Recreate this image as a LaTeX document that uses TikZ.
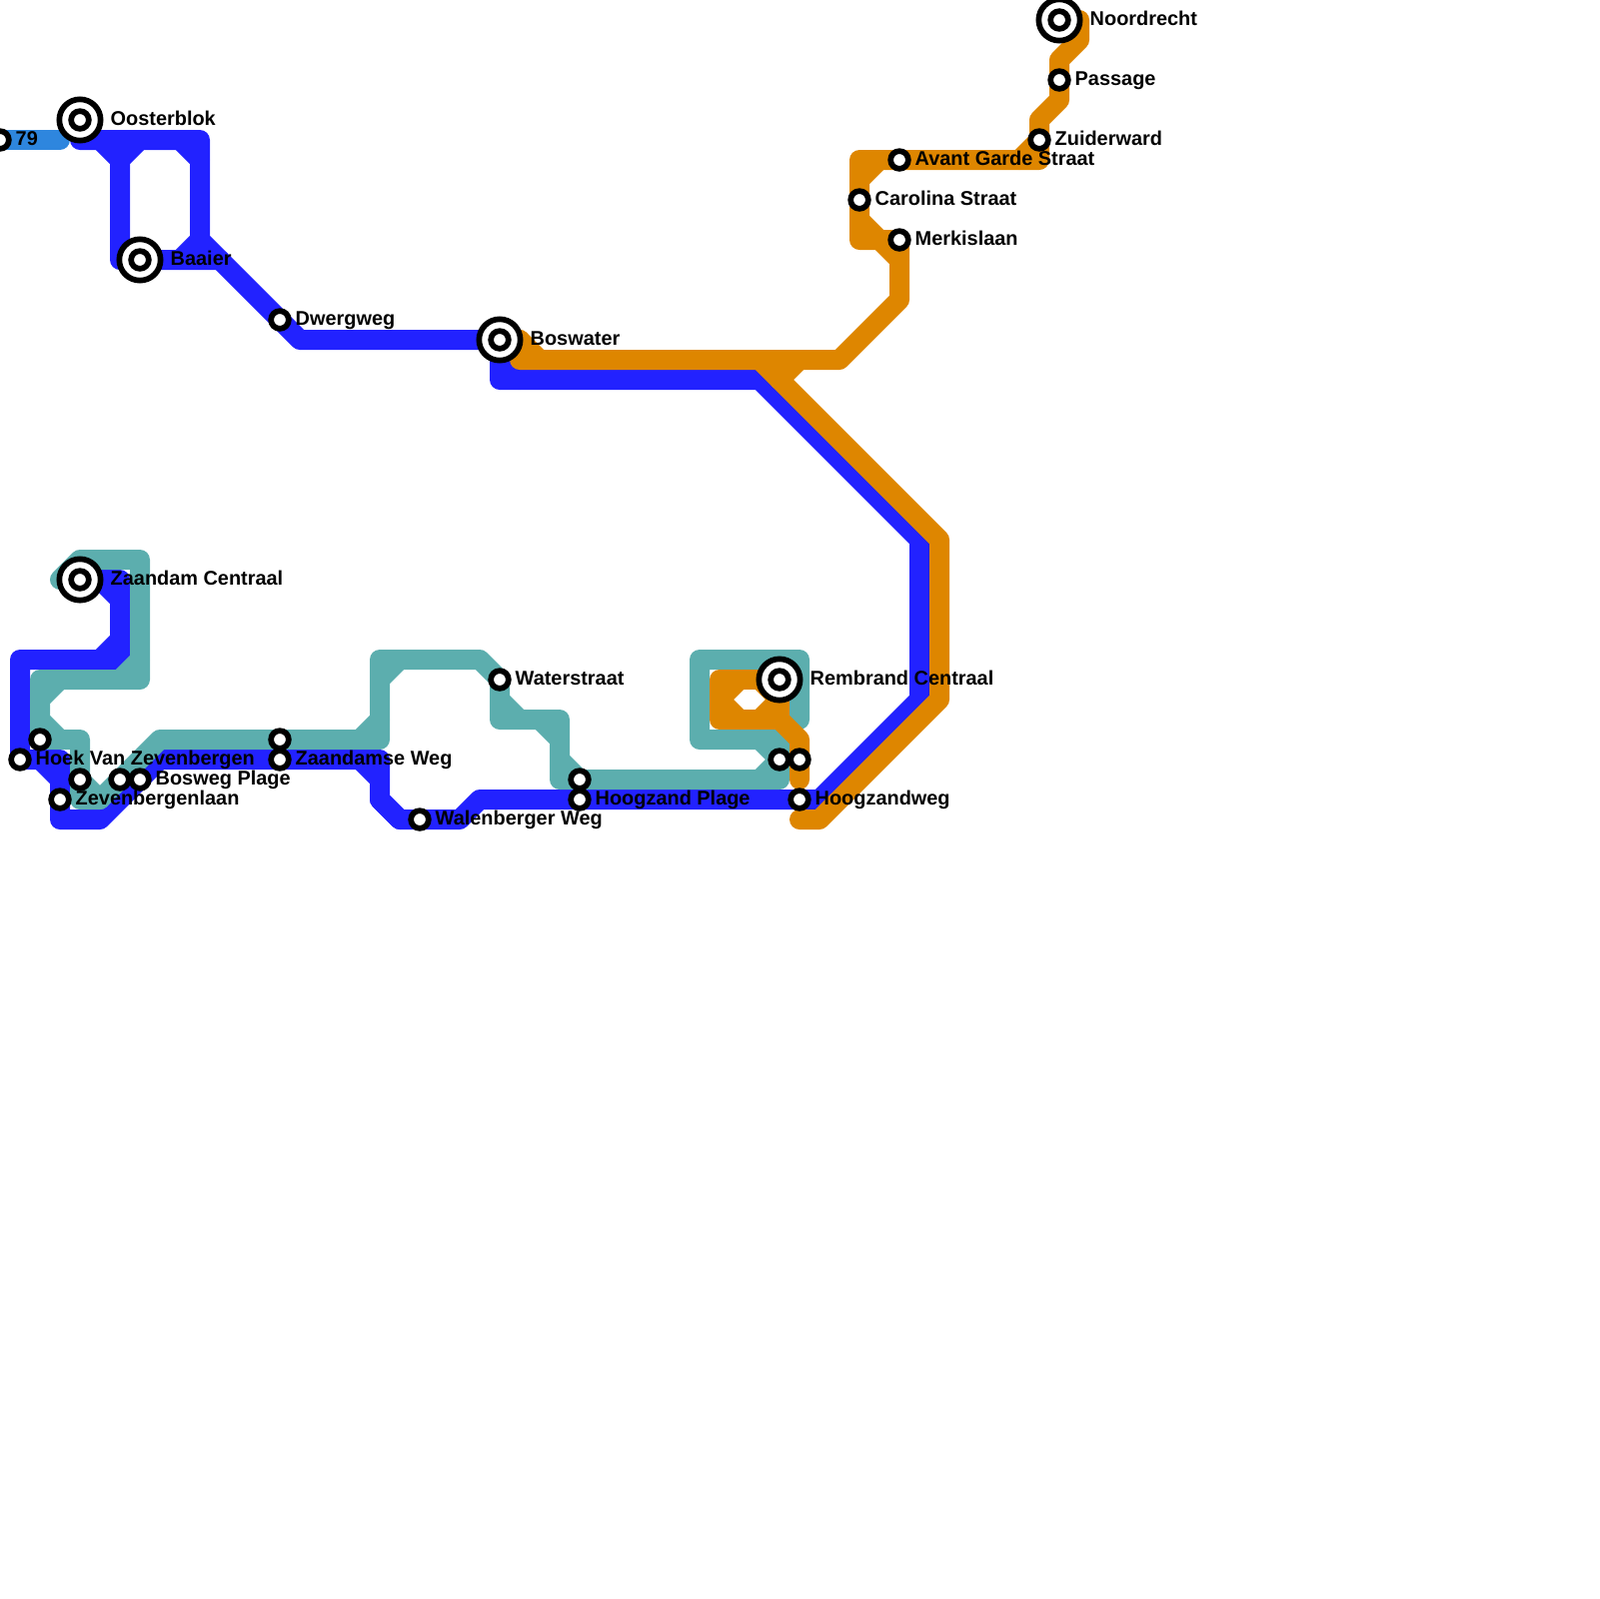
\documentclass[tikz,border=0pt]{standalone}
\usepackage{fontspec}
\setmainfont{Liberation Sans}
\definecolor{lineblue}{HTML}{2222FF}
\definecolor{lineteal}{HTML}{5CAEAE}
\definecolor{lineorange}{HTML}{DE8600}
\definecolor{linesky}{HTML}{2E86DE}
\begin{document}
\begin{tikzpicture}[x=0.1mm,y=-0.1mm,
  metro/.style={line width=2mm,line join=round,line cap=round},
  stop/.style={circle,draw=black,fill=white,line width=.57mm,minimum size=1.77mm,inner sep=0pt,outer sep=0pt},
  hub/.style={circle,draw=black,fill=white,line width=.57mm,minimum size=4.13mm,inner sep=0pt,outer sep=0pt},
  lbl/.style={anchor=base west,inner sep=0pt,font=\bfseries\fontsize{5.665}{7}\selectfont}]
\useasboundingbox (0,0) rectangle (1600,1600);
\coordinate (oosterblok) at (80,120);\coordinate (baaier) at (140,260);
\coordinate (dwergweg) at (280,320);\coordinate (boswater) at (500,340);
\coordinate (zaandam) at (80,580);\coordinate (hoek) at (20,760);
\coordinate (zevenlaan) at (60,800);\coordinate (bosweg) at (140,780);
\coordinate (zaandamse) at (280,760);\coordinate (walenberger) at (420,820);
\coordinate (hoogplage) at (580,800);\coordinate (hoogweg) at (800,800);
\coordinate (leftteal) at (40,740);\coordinate (midteal) at (80,780);
\coordinate (diagteal) at (120,780);\coordinate (zaanteal) at (280,740);
\coordinate (waterstraat) at (500,680);\coordinate (plageteal) at (580,780);
\coordinate (remteal) at (780,760);\coordinate (remorange) at (800,760);
\coordinate (rembrand) at (780,680);\coordinate (avant) at (900,160);
\coordinate (carolina) at (860,200);\coordinate (merkis) at (900,240);
\coordinate (zuider) at (1040,140);\coordinate (passage) at (1060,80);
\coordinate (noordrecht) at (1060,20);\coordinate (seventynine) at (0,140);
% sky line
\draw[metro,linesky] (seventynine)--(60,140);
% blue line
\draw[metro,lineblue] (80,140)--(200,140)--(200,240)--(dwergweg)--(300,340)--(boswater)--(500,380)
  --(760,380)--(920,540)--(920,700)--(820,800)--(hoogweg)--(hoogplage)--(480,800)--(460,820)
  --(walenberger)--(400,820)--(380,800)--(380,760)--(zaandamse)--(160,760)--(bosweg)--(100,820)
  --(60,820)--(zevenlaan)--(60,760)--(hoek)--(20,660)--(120,660)--(120,580)--(zaandam);
\draw[metro,lineblue] (100,140)--(120,160)--(120,260)--(baaier)--(220,260);
\draw[metro,lineblue] (120,160)--(140,140);
\draw[metro,lineblue] (180,140)--(200,160);
\draw[metro,lineblue] (200,240)--(180,260);
\draw[metro,lineblue] (360,760)--(380,780);
\draw[metro,lineblue] (380,800)--(400,820);
\draw[metro,lineblue] (40,760)--(60,780);
\draw[metro,lineblue] (100,580)--(120,600);
\draw[metro,lineblue] (100,660)--(120,640);
\draw[metro,lineblue] (500,360)--(520,380);
% teal line
\draw[metro,lineteal] (60,580)--(80,560)--(140,560)--(140,680)--(40,680)--(leftteal)--(80,740)
  --(midteal)--(80,800)--(100,800)--(diagteal)--(160,740)--(zaanteal)--(380,740)--(380,660)
  --(480,660)--(waterstraat)--(500,720)--(560,720)--(560,780)--(plageteal)--(780,780)--(remteal)
  --(780,740)--(700,740)--(700,660)--(800,660)--(800,720)--(780,720);
\draw[metro,lineteal] (120,680)--(140,660);
\draw[metro,lineteal] (60,680)--(40,700);
\draw[metro,lineteal] (40,720)--(60,740);
\draw[metro,lineteal] (80,780)--(100,800);
\draw[metro,lineteal] (360,740)--(380,720);
\draw[metro,lineteal] (380,680)--(400,660);
\draw[metro,lineteal] (500,700)--(520,720);
\draw[metro,lineteal] (540,720)--(560,740);
\draw[metro,lineteal] (560,760)--(580,780);
\draw[metro,lineteal] (760,780)--(780,760);
\draw[metro,lineteal] (760,740)--(780,760);
% orange line
\draw[metro,lineorange] (noordrecht)--(1080,20)--(1080,40)--(1060,60)--(passage)--(1060,100)--(1040,120)
  --(zuider)--(1040,160)--(avant)--(860,160)--(carolina)--(860,240)--(merkis)--(900,300)--(840,360)
  --(520,360)--(520,340)--(boswater);
\draw[metro,lineorange] (880,160)--(860,180);
\draw[metro,lineorange] (860,220)--(880,240);
\draw[metro,lineorange] (880,240)--(900,260);
\draw[metro,lineorange] (1020,160)--(1040,140);
\draw[metro,lineorange] (520,340)--(540,360);
\draw[metro,lineorange] (780,380)--(800,360);
\draw[metro,lineorange] (760,360)--(940,540)--(940,700)--(820,820)--(800,820);
\draw[metro,lineorange] (rembrand)--(720,680)--(720,720)--(780,720)--(rembrand);
\draw[metro,lineorange] (780,720)--(800,740)--(remorange)--(800,780);
\draw[metro,lineorange] (720,700)--(740,680);
\draw[metro,lineorange] (720,700)--(740,720);
\draw[metro,lineorange] (780,700)--(760,720);
\draw[metro,lineorange] (760,680)--(780,700);
% stations
\node[stop] (nSeventynine) at (seventynine) {};
\node[hub] (nOosterblok) at (oosterblok) {};\node[stop] (nOosterblokIn) at (oosterblok) {};
\node[hub] (nBaaier) at (baaier) {};\node[stop] (nBaaierIn) at (baaier) {};
\node[hub] (nBoswater) at (boswater) {};\node[stop] (nBoswaterIn) at (boswater) {};
\node[hub] (nZaandam) at (zaandam) {};\node[stop] (nZaandamIn) at (zaandam) {};
\node[hub] (nRembrand) at (rembrand) {};\node[stop] (nRembrandIn) at (rembrand) {};
\node[hub] (nNoordrecht) at (noordrecht) {};\node[stop] (nNoordrechtIn) at (noordrecht) {};
\node[stop] (nDwergweg) at (dwergweg) {};\node[stop] (nLeftteal) at (leftteal) {};
\node[stop] (nHoek) at (hoek) {};\node[stop] (nMidteal) at (midteal) {};
\node[stop] (nZevenlaan) at (zevenlaan) {};\node[stop] (nDiagteal) at (diagteal) {};
\node[stop] (nBosweg) at (bosweg) {};\node[stop] (nZaanteal) at (zaanteal) {};
\node[stop] (nZaandamse) at (zaandamse) {};\node[stop] (nWalenberger) at (walenberger) {};
\node[stop] (nWaterstraat) at (waterstraat) {};\node[stop] (nPlageteal) at (plageteal) {};
\node[stop] (nHoogplage) at (hoogplage) {};\node[stop] (nRemteal) at (remteal) {};
\node[stop] (nRemorange) at (remorange) {};\node[stop] (nHoogweg) at (hoogweg) {};
\node[stop] (nAvant) at (avant) {};\node[stop] (nCarolina) at (carolina) {};
\node[stop] (nMerkis) at (merkis) {};\node[stop] (nZuider) at (zuider) {};
\node[stop] (nPassage) at (passage) {};
% labels
\node[lbl] (tSeventynine) at (15,145) {79};
\node[lbl] (tOosterblok) at (110,125) {Oosterblok};
\node[lbl] (tBaaier) at (170,265) {Baaier};
\node[lbl] (tDwergweg) at (295,325) {Dwergweg};
\node[lbl] (tBoswater) at (530,345) {Boswater};
\node[lbl] (tZaandam) at (110,585) {Zaandam Centraal};
\node[lbl] (tWaterstraat) at (515,685) {Waterstraat};
\node[lbl] (tRembrand) at (810,685) {Rembrand Centraal};
\node[lbl] (tHoek) at (35,765) {Hoek Van Zevenbergen};
\node[lbl] (tZaandamse) at (295,765) {Zaandamse Weg};
\node[lbl] (tBosweg) at (155,785) {Bosweg Plage};
\node[lbl] (tZevenlaan) at (75,805) {Zevenbergenlaan};
\node[lbl] (tHoogplage) at (595,805) {Hoogzand Plage};
\node[lbl] (tHoogweg) at (815,805) {Hoogzandweg};
\node[lbl] (tWalenberger) at (435,825) {Walenberger Weg};
\node[lbl] (tNoordrecht) at (1090,25) {Noordrecht};
\node[lbl] (tPassage) at (1075,85) {Passage};
\node[lbl] (tZuider) at (1055,145) {Zuiderward};
\node[lbl] (tAvant) at (915,165) {Avant Garde Straat};
\node[lbl] (tCarolina) at (875,205) {Carolina Straat};
\node[lbl] (tMerkis) at (915,245) {Merkislaan};
\end{tikzpicture}
\end{document}
